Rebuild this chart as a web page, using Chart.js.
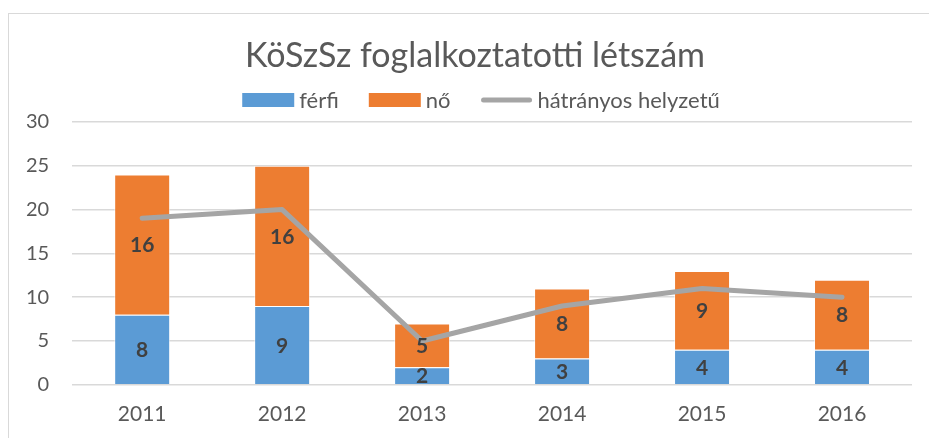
<!DOCTYPE html>
<html>
<head>
<meta charset="utf-8">
<script src="https://cdn.jsdelivr.net/npm/chart.js@4"></script>
<style>
  html, body { margin: 0; padding: 0; overflow: hidden; background: #fff; width: 929px; height: 438px; }
  #frame { position: absolute; left: 8px; top: 13px; width: 940px; height: 450px; border: 1px solid #d9d9d9; }
  #chart { display: block; }
</style>
</head>
<body>
<div id="frame"><canvas id="chart" width="920" height="424"></canvas></div>
<script>
// Chart data
const title = 'KöSzSz foglalkoztatotti létszám';
const years = ['2011', '2012', '2013', '2014', '2015', '2016'];
const ferfi = [8, 9, 2, 3, 4, 4];
const no = [16, 16, 5, 8, 9, 8];
const hatranyos = [19, 20, 5, 9, 11, 10];

const FONT = 'Lato, "Open Sans", sans-serif';
const TEXT = '#595959';

// labels in the middle of each bar segment
const barLabels = {
    id: 'barLabels',
    afterDatasetsDraw(chart) {
        const ctx = chart.ctx;
        ctx.save();
        ctx.font = 'bold 21px ' + FONT;
        ctx.fillStyle = '#404040';
        ctx.textAlign = 'center';
        ctx.textBaseline = 'middle';
        chart.data.datasets.forEach((ds, i) => {
            if (ds.type !== 'bar') return;
            chart.getDatasetMeta(i).data.forEach((bar, j) => {
                const p = bar.getProps(['x', 'y', 'base'], true);
                ctx.fillText(ds.data[j], p.x, (p.y + p.base) / 2 + 1);
            });
        });
        ctx.restore();
    }
};

// title + legend drawn by hand so position and item spacing match
const header = {
    id: 'header',
    afterDraw(chart) {
        const ctx = chart.ctx;
        ctx.save();
        ctx.fillStyle = TEXT;
        ctx.font = '34px ' + FONT;
        ctx.textAlign = 'center';
        ctx.textBaseline = 'middle';
        ctx.fillText(title, 466, 42);

        const y = 86;
        const boxW = 52, gap = 5, itemGap = 30;
        ctx.font = '22px ' + FONT;
        ctx.textAlign = 'left';
        const items = chart.data.datasets.map(ds => ({
            text: ds.label, ds: ds, w: boxW + gap + ctx.measureText(ds.label).width
        }));
        const total = items.reduce((s, it) => s + it.w, 0) + itemGap * (items.length - 1);
        let x = 472 - total / 2;
        items.forEach(it => {
            if (it.ds.type === 'line') {
                ctx.strokeStyle = it.ds.borderColor;
                ctx.lineWidth = 5;
                ctx.lineCap = 'round';
                ctx.beginPath();
                ctx.moveTo(x + 3, y);
                ctx.lineTo(x + boxW - 3, y);
                ctx.stroke();
            } else {
                ctx.fillStyle = it.ds.backgroundColor;
                ctx.fillRect(x, y - 7, boxW, 14);
            }
            ctx.fillStyle = TEXT;
            ctx.fillText(it.text, x + boxW + gap, y + 1);
            x += it.w + itemGap;
        });
        ctx.restore();
    }
};

const ctx = document.getElementById('chart').getContext('2d');
const chart = new Chart(ctx, {
    data: {
        labels: years,
        datasets: [
            {
                type: 'bar',
                label: 'férfi',
                data: ferfi,
                backgroundColor: '#5B9BD5',
                borderColor: 'rgba(255,255,255,0.6)',
                borderWidth: 1,
                stack: 'bars',
                order: 1
            },
            {
                type: 'bar',
                label: 'nő',
                data: no,
                backgroundColor: '#ED7D31',
                borderColor: 'rgba(255,255,255,0.6)',
                borderWidth: 1,
                stack: 'bars',
                order: 1
            },
            {
                type: 'line',
                label: 'hátrányos helyzetű',
                data: hatranyos,
                borderColor: '#A5A5A5',
                borderWidth: 5,
                borderCapStyle: 'round',
                borderJoinStyle: 'round',
                pointRadius: 0,
                tension: 0,
                fill: false,
                stack: 'line',
                order: 0
            }
        ]
    },
    options: {
        responsive: false,
        animation: false,
        layout: { padding: { left: -6, right: 17, top: 108, bottom: 2 } },
        datasets: { bar: { categoryPercentage: 1, barPercentage: 0.4 } },
        plugins: {
            legend: { display: false },
            tooltip: { enabled: false },
            title: { display: false }
        },
        scales: {
            x: {
                stacked: true,
                grid: { display: false },
                border: { display: false },
                ticks: { color: TEXT, font: { family: FONT, size: 21 }, padding: 9 }
            },
            y: {
                stacked: true,
                min: 0,
                max: 30,
                grid: { color: '#d9d9d9', lineWidth: 1.5, drawTicks: false },
                border: { display: false },
                ticks: { stepSize: 5, color: TEXT, font: { family: FONT, size: 20 }, padding: 23 }
            }
        }
    },
    plugins: [barLabels, header]
});
</script>
</body>
</html>
